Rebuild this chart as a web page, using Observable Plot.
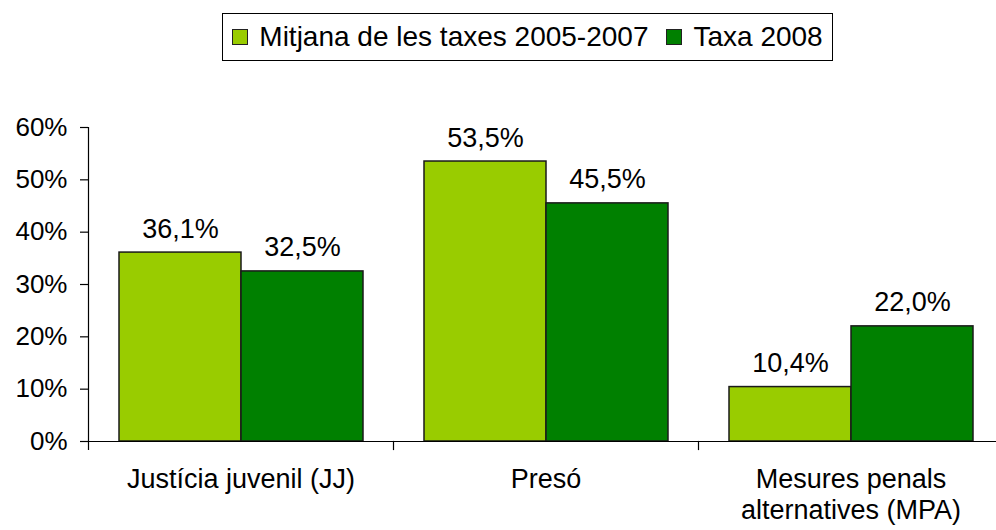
<!DOCTYPE html>
<html>
<head>
<meta charset="utf-8">
<script src="https://cdn.jsdelivr.net/npm/d3@7"></script>
<script src="https://cdn.jsdelivr.net/npm/@observablehq/plot@0.6"></script>
<style>
  html, body { margin: 0; padding: 0; background: #fff; overflow: hidden; }
  body { width: 996px; height: 530px; position: relative; font-family: "Liberation Sans", Arial, sans-serif; }
  #chart svg { max-width: none !important; display: block; }
  #legend {
    position: absolute; left: 222px; top: 13px; width: 609px; height: 46px;
    border: 1px solid #000; background: #fff;
    display: flex; align-items: center; justify-content: center;
    font-size: 28px; color: #000; white-space: nowrap; box-sizing: content-box;
  }
  .item { display: flex; align-items: center; }
  .item + .item { margin-left: 18px; }
  .sw { width: 14px; height: 14px; border: 1px solid #222; margin-right: 11px; }
</style>
</head>
<body>
<div id="chart"></div>
<div id="legend"></div>
<script>
const categories = ["Justícia juvenil (JJ)", "Presó", "Mesures penals alternatives (MPA)"];
const categoryLabels = ["Justícia juvenil (JJ)", "Presó", "Mesures penals\nalternatives (MPA)"];
const series = ["Mitjana de les taxes 2005-2007", "Taxa 2008"];
const seriesColors = ["#99CC00", "#008000"];
const valuesMitjana = [36.1, 53.5, 10.4];
const valuesTaxa2008 = [32.5, 45.5, 22.0];
const yTicks = [0, 10, 20, 30, 40, 50, 60];

const data = [];
categories.forEach((c, i) => {
  data.push({category: c, series: series[0], value: valuesMitjana[i]});
  data.push({category: c, series: series[1], value: valuesTaxa2008[i]});
});
const labelOf = new Map(categories.map((c, i) => [c, categoryLabels[i]]));
const fmt = v => v.toFixed(1).replace(".", ",") + "%";

const chart = Plot.plot({
  width: 1003,
  height: 530,
  marginLeft: 88,
  marginRight: 0,
  marginTop: 127,
  marginBottom: 89,
  style: {fontFamily: "'Liberation Sans', Arial, sans-serif", fontSize: "26px", color: "#000", background: "transparent"},
  fx: {domain: categories, paddingInner: 0, paddingOuter: 0, label: null},
  x: {domain: series, paddingInner: 0, paddingOuter: 0.24, axis: null},
  y: {domain: [0, 60], axis: null},
  color: {domain: series, range: seriesColors},
  marks: [
    Plot.barY(data, {fx: "category", x: "series", y: "value", fill: "series", stroke: "#1a1a1a", strokeWidth: 1.5}),
    Plot.text(data, {fx: "category", x: "series", y: "value", text: d => fmt(d.value), dy: -15, lineAnchor: "bottom", fontSize: 27, fill: "#000"}),
    Plot.ruleY([0], {stroke: "#000", strokeWidth: 1.2}),
    Plot.frame({anchor: "left", facetAnchor: "left", insetBottom: -8, stroke: "#000", strokeWidth: 1.2}),
    Plot.frame({anchor: "right", insetTop: 314, insetBottom: -8, stroke: "#000", strokeWidth: 1.2}),
    Plot.axisY({ticks: yTicks, tickSize: 8, tickPadding: 13, tickFormat: d => d + "%", fontSize: 26, stroke: "#000", strokeWidth: 1.2, label: null}),
    Plot.axisFx({anchor: "bottom", tickSize: 0, tickPadding: 25, lineHeight: 1.13, fontSize: 27, tickFormat: c => labelOf.get(c), label: null})
  ]
});
document.getElementById("chart").appendChild(chart);

const legend = document.getElementById("legend");
series.forEach((s, i) => {
  const item = document.createElement("div");
  item.className = "item";
  const sw = document.createElement("div");
  sw.className = "sw";
  sw.style.background = seriesColors[i];
  const t = document.createElement("span");
  t.textContent = s;
  item.appendChild(sw);
  item.appendChild(t);
  legend.appendChild(item);
});
</script>
</body>
</html>
